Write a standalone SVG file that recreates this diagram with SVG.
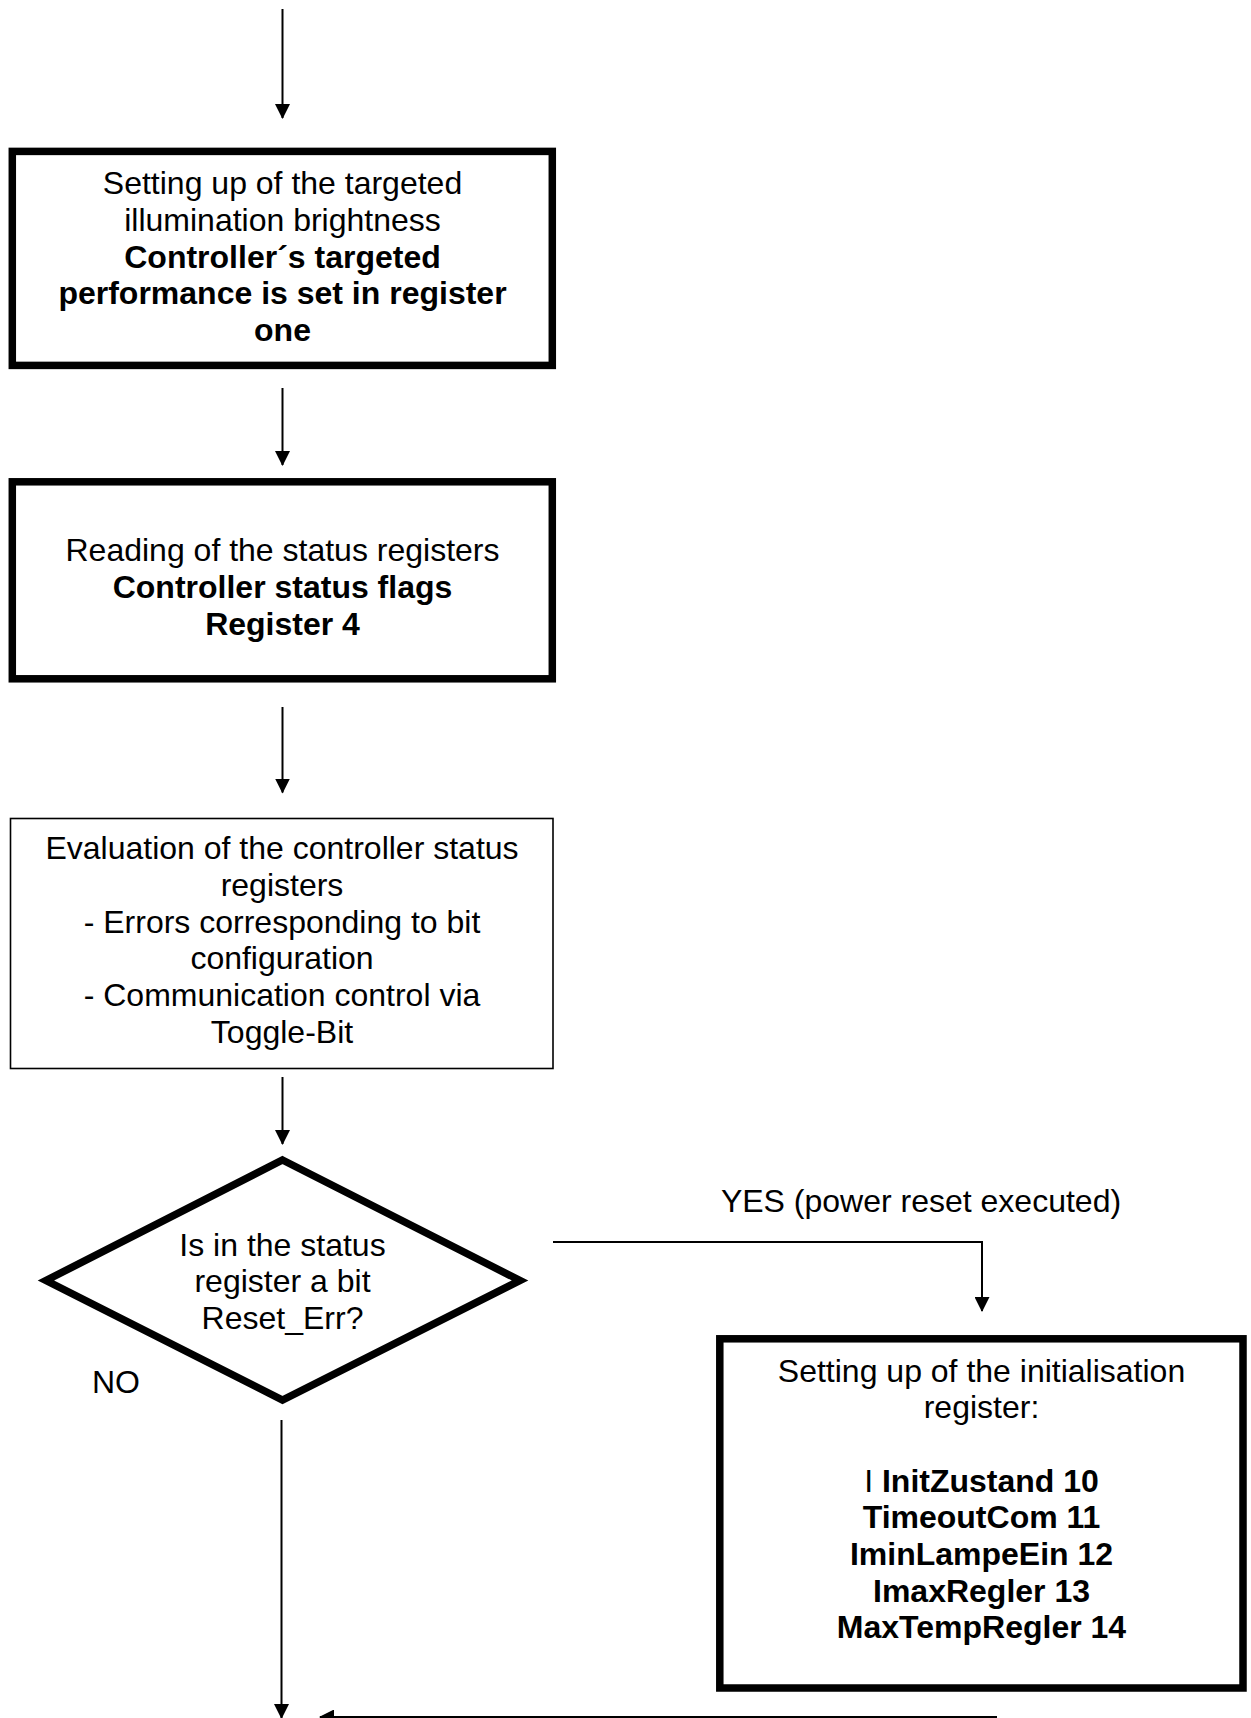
<svg xmlns="http://www.w3.org/2000/svg" width="1251" height="1718" viewBox="0 0 1251 1718">
<style>
.t{font-family:"Liberation Sans",Arial,sans-serif;font-size:32px;fill:#000;text-anchor:middle}
.b{font-weight:bold}
.thick{fill:#fff;stroke:#000;stroke-width:7.5}
.thin{fill:#fff;stroke:#000;stroke-width:1.6}
.c{fill:none;stroke:#000;stroke-width:2;marker-end:url(#ah)}
</style>
<defs>
<marker id="ah" markerUnits="userSpaceOnUse" viewBox="0 0 15 15" markerWidth="15" markerHeight="15" refX="14" refY="7.5" orient="auto">
<path d="M0,0 L15,7.5 L0,15 z" fill="#000"/>
</marker>
</defs>
<rect width="1251" height="1718" fill="#fff"/>
<g id="connectors">
<path class="c" d="M282.5,9 V118"/>
<path class="c" d="M282.5,388 V465"/>
<path class="c" d="M282.5,707 V792.5"/>
<path class="c" d="M282.5,1077 V1144"/>
<path class="c" d="M553,1242 H982 V1311"/>
<path class="c" d="M281.5,1420 V1718"/>
<path class="c" d="M997,1717 H320"/>
</g>
<g id="box1">
<rect class="thick" x="12.3" y="151.4" width="540" height="214"/>
<text class="t" x="282.5" y="194">Setting up of the targeted</text>
<text class="t" x="282.5" y="230.8">illumination brightness</text>
<text class="t b" x="282.5" y="267.5">Controller´s targeted</text>
<text class="t b" x="282.5" y="304.3">performance is set in register</text>
<text class="t b" x="282.5" y="341">one</text>
</g>
<g id="box2">
<rect class="thick" x="12.3" y="481.8" width="540" height="197"/>
<text class="t" x="282.5" y="561.3">Reading of the status registers</text>
<text class="t b" x="282.5" y="598">Controller status flags</text>
<text class="t b" x="282.5" y="634.7">Register 4</text>
</g>
<g id="box3">
<rect class="thin" x="10.5" y="818.5" width="542.5" height="250"/>
<text class="t" x="282" y="859.3">Evaluation of the controller status</text>
<text class="t" x="282" y="896">registers</text>
<text class="t" x="282" y="932.6">- Errors corresponding to bit</text>
<text class="t" x="282" y="969.3">configuration</text>
<text class="t" x="282" y="1006">- Communication control via</text>
<text class="t" x="282" y="1042.7">Toggle-Bit</text>
</g>
<g id="decision">
<polygon class="thick" points="282.5,1160 520,1280.5 282.5,1400 46,1280.5"/>
<text class="t" x="282.5" y="1255.5">Is in the status</text>
<text class="t" x="282.5" y="1292.2">register a bit</text>
<text class="t" x="282.5" y="1328.9">Reset_Err?</text>
</g>
<g id="labels">
<text class="t" x="921" y="1211.5">YES (power reset executed)</text>
<text class="t" x="116" y="1393">NO</text>
</g>
<g id="box4">
<rect class="thick" x="719.8" y="1338.8" width="523.2" height="349.2"/>
<text class="t" x="981.5" y="1381.5">Setting up of the initialisation</text>
<text class="t" x="981.5" y="1418.2">register:</text>
<text class="t" x="981.5" y="1491.6">I <tspan class="b">InitZustand 10</tspan></text>
<text class="t b" x="981.5" y="1528.3">TimeoutCom 11</text>
<text class="t b" x="981.5" y="1565">IminLampeEin 12</text>
<text class="t b" x="981.5" y="1601.7">ImaxRegler 13</text>
<text class="t b" x="981.5" y="1638.4">MaxTempRegler 14</text>
</g>
</svg>
